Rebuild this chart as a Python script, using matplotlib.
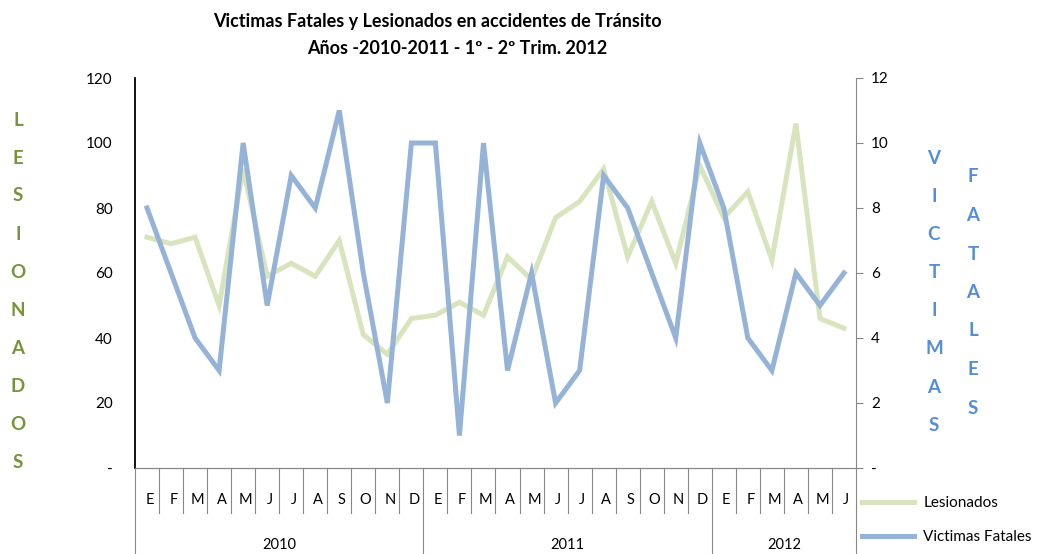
import matplotlib.pyplot as plt
from matplotlib.lines import Line2D

# Data
months = ["E", "F", "M", "A", "M", "J", "J", "A", "S", "O", "N", "D"] * 2 + ["E", "F", "M", "A", "M", "J"]
years = ["2010", "2011", "2012"]
year_lengths = [12, 12, 6]

lesionados = [71, 69, 71, 50, 92, 59, 63, 59, 70, 41, 35, 46,
              47, 51, 47, 65, 58, 77, 82, 92, 65, 82, 63, 93,
              77, 85, 64, 106, 46, 43]
victimas = [8, 6, 4, 3, 10, 5, 9, 8, 11, 6, 2, 10,
            10, 1, 10, 3, 6, 2, 3, 9, 8, 6, 4, 10,
            8, 4, 3, 6, 5, 6]

left_ticks = [0, 20, 40, 60, 80, 100, 120]
left_labels = ["-", "20", "40", "60", "80", "100", "120"]
right_ticks = [0, 2, 4, 6, 8, 10, 12]
right_labels = ["-", "2", "4", "6", "8", "10", "12"]

GREEN = "#D7E4BD"
BLUE = "#95B3D7"
GRAY = "#868686"

plt.rcParams["font.family"] = ["Lato", "DejaVu Sans"]

fig = plt.figure(figsize=(10.47, 5.54), dpi=100)
ax = fig.add_axes([135 / 1047, 86 / 554, 721 / 1047, 390 / 554])
ax2 = ax.twinx()

x = list(range(len(months)))
ax.plot(x, lesionados, color=GREEN, lw=3.6, solid_joinstyle="miter")
ax2.plot(x, victimas, color=BLUE, lw=3.6, solid_joinstyle="miter")

ax.set_xlim(-0.5, len(months) - 0.5)
ax.set_ylim(0, 120)
ax2.set_ylim(0, 12)

ax.set_yticks(left_ticks, left_labels, fontsize=11)
ax2.set_yticks(right_ticks, right_labels, fontsize=11)
ax.tick_params(axis="y", length=0, pad=16)
ax2.tick_params(axis="y", length=5, color=GRAY, pad=6)

for a in (ax, ax2):
    a.spines["top"].set_visible(False)
ax.spines["left"].set_color("black")
ax.spines["left"].set_linewidth(1.3)
ax.spines["right"].set_visible(False)
ax2.spines["left"].set_visible(False)
ax2.spines["right"].set_color(GRAY)
ax2.spines["bottom"].set_color(GRAY)
ax.spines["bottom"].set_color(GRAY)

# category axis: months, separators, years
ax.set_xticks([])
trans = ax.get_xaxis_transform()
h = 390.0
for i, m in enumerate(months):
    ax.text(i + 0.1, -32 / h, m, transform=trans, ha="center", va="center", fontsize=10.5)
boundaries = [b - 0.5 for b in range(len(months) + 1)]
year_edges = [-0.5]
for n in year_lengths:
    year_edges.append(year_edges[-1] + n)
for b in boundaries:
    bottom = -86 / h if b in year_edges else -45 / h
    ax.plot([b, b], [0, bottom], transform=trans, color=GRAY, lw=0.8, clip_on=False)
for y, start, n in zip(years, year_edges[:-1], year_lengths):
    ax.text(start + n / 2, -77 / h, y, transform=trans, ha="center", va="center", fontsize=10.5)

# titles
fig.text(437 / 1047, 1 - 22 / 554, "Victimas Fatales y Lesionados en accidentes de Tránsito",
         ha="center", va="center", fontsize=13, fontweight="bold")
fig.text(457 / 1047, 1 - 48 / 554, "Años -2010-2011 - 1º - 2º Trim. 2012",
         ha="center", va="center", fontsize=13, fontweight="bold")

# vertical stacked axis titles
for k, ch in enumerate("LESIONADOS"):
    fig.text(18 / 1047, 1 - (120 + k * 38) / 554, ch, ha="center", va="center",
             fontsize=13.5, fontweight="bold", color="#77933C")
for k, ch in enumerate("VICTIMAS"):
    fig.text(934 / 1047, 1 - (158 + k * 38.2) / 554, ch, ha="center", va="center",
             fontsize=13.5, fontweight="bold", color="#558ED5")
for k, ch in enumerate("FATALES"):
    fig.text(973 / 1047, 1 - (177 + k * 38.5) / 554, ch, ha="center", va="center",
             fontsize=13.5, fontweight="bold", color="#558ED5")

handles = [Line2D([], [], color=GREEN, lw=3.6), Line2D([], [], color=BLUE, lw=3.6)]
fig.legend(handles, ["Lesionados", "Victimas Fatales"], loc="upper left",
           bbox_to_anchor=(856 / 1047, 1 - 490 / 554), frameon=False, fontsize=11,
           handlelength=3.4, labelspacing=1.3, handletextpad=0.6, borderaxespad=0)

fig.savefig("out.png", dpi=100)
